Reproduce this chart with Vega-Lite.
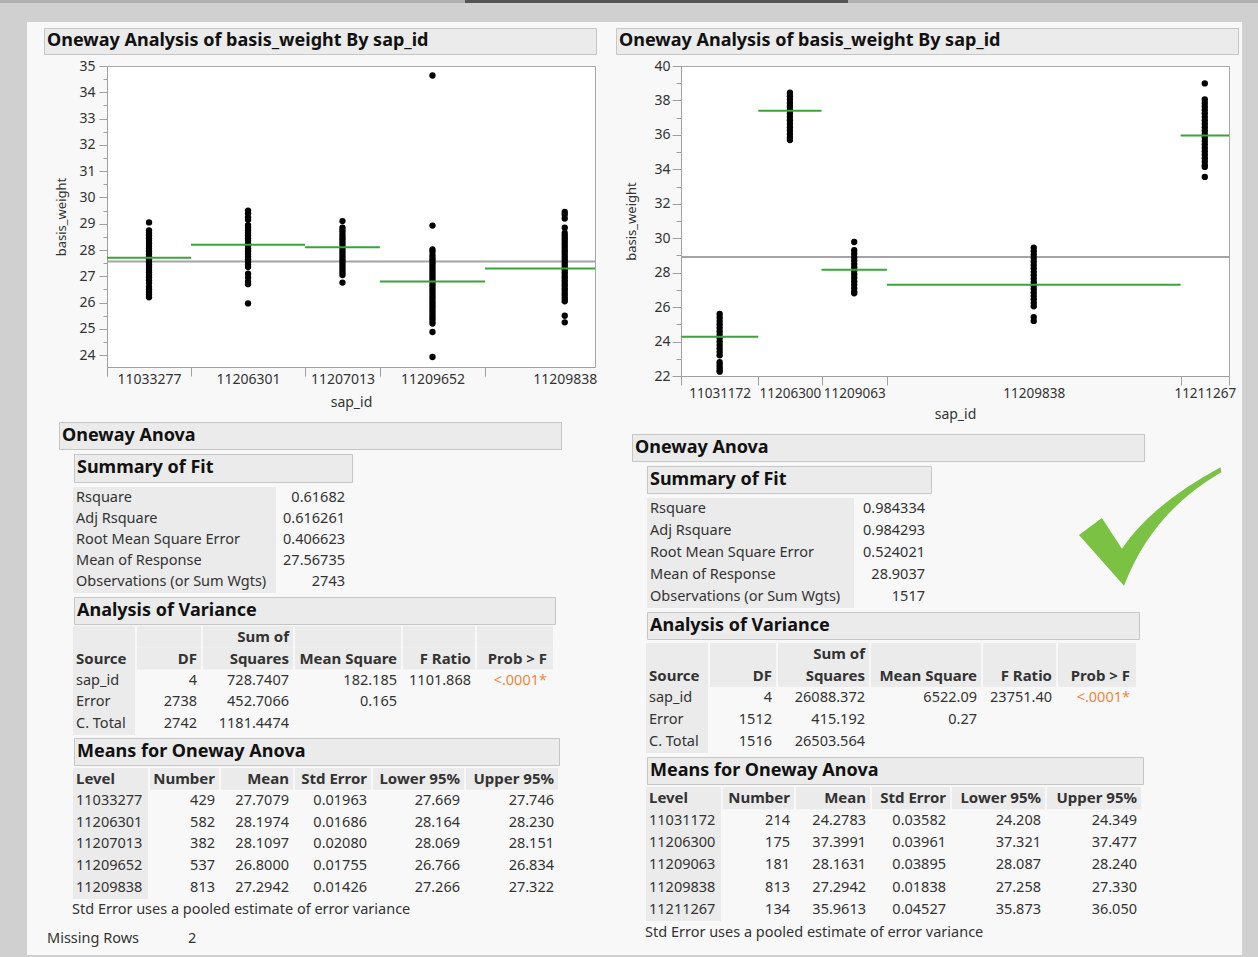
{
"$schema":"https://vega.github.io/schema/vega-lite/v6.json",
"background":"#f8f8f8",
"padding":0,
"spacing":0,
"config":{
 "view":{"stroke":null},
 "text":{"font":"Noto Sans","fontSize":14.5,"color":"#333"},
 "axis":{"domainColor":"#a0a0a0","tickColor":"#a0a0a0","labelColor":"#333","labelFont":"Noto Sans","labelFontSize":14,"titleFont":"Noto Sans","titleFontSize":13,"titleFontWeight":"normal","titleColor":"#333","grid":false,"labelOverlap":false,"labelFlush":false,"labelBound":false}
},
"datasets":{
 "gmL":[{"m":27.56735}],
 "gmR":[{"m":28.9037}],
 "gL":[
  {"g":"11033277","n":429,"lo":0,"hi":429,"mean":27.7079,"vs":[29.05,28.75,28.65,28.55,28.45,28.35,28.25,28.15,28.05,27.95,27.85,27.75,27.65,27.55,27.45,27.35,27.25,27.15,27.05,26.95,26.85,26.75,26.6,26.5,26.4,26.3,26.2]},
  {"g":"11206301","n":582,"lo":429,"hi":1011,"mean":28.1974,"vs":[29.5,29.4,29.25,29.15,28.95,28.85,28.75,28.65,28.55,28.45,28.35,28.25,28.15,28.05,27.95,27.85,27.75,27.65,27.55,27.45,27.35,27.1,26.95,26.8,26.7,25.97]},
  {"g":"11207013","n":382,"lo":1011,"hi":1393,"mean":28.1097,"vs":[29.1,28.85,28.75,28.65,28.55,28.45,28.35,28.25,28.15,28.05,27.95,27.85,27.75,27.65,27.55,27.45,27.35,27.25,27.15,27.05,26.76]},
  {"g":"11209652","n":537,"lo":1393,"hi":1930,"mean":26.8,"vs":[34.64,28.93,28.02,27.93,27.8,27.7,27.6,27.5,27.4,27.3,27.2,27.1,27.0,26.9,26.8,26.7,26.6,26.5,26.4,26.3,26.2,26.1,26.0,25.9,25.8,25.7,25.6,25.5,25.4,25.3,25.2,24.88,23.93]},
  {"g":"11209838","n":813,"lo":1930,"hi":2743,"mean":27.2942,"vs":[29.45,29.35,29.2,28.85,28.65,28.55,28.45,28.35,28.25,28.15,28.05,27.95,27.85,27.75,27.65,27.55,27.45,27.35,27.25,27.15,27.05,26.95,26.85,26.75,26.65,26.55,26.45,26.35,26.25,26.15,26.05,25.5,25.25]}
 ],
 "gR":[
  {"g":"11031172","n":214,"lo":0,"hi":214,"mean":24.2783,"vs":[25.6,25.4,25.2,25.0,24.8,24.6,24.4,24.2,24.0,23.8,23.6,23.4,23.2,22.8,22.65,22.5,22.35,22.25]},
  {"g":"11206300","n":175,"lo":214,"hi":389,"mean":37.3991,"vs":[38.45,38.25,38.05,37.85,37.65,37.45,37.25,37.05,36.85,36.65,36.45,36.25,36.05,35.85,35.7]},
  {"g":"11209063","n":181,"lo":389,"hi":570,"mean":28.1631,"vs":[29.78,29.3,29.1,28.9,28.7,28.5,28.3,28.1,27.9,27.7,27.5,27.3,27.1,26.9,26.8]},
  {"g":"11209838","n":813,"lo":570,"hi":1383,"mean":27.2942,"vs":[29.45,29.25,29.05,28.85,28.65,28.45,28.25,28.05,27.85,27.65,27.45,27.25,27.05,26.85,26.65,26.45,26.25,26.05,25.42,25.2]},
  {"g":"11211267","n":134,"lo":1383,"hi":1517,"mean":35.9613,"vs":[38.99,38.06,37.85,37.65,37.45,37.25,37.05,36.85,36.65,36.45,36.25,36.05,35.85,35.65,35.45,35.25,35.05,34.85,34.65,34.45,34.25,34.14,33.56]}
 ],
 "sofL":[
  {"r":"r1","L":"Rsquare","V":"0.61682"},
  {"r":"r2","L":"Adj Rsquare","V":"0.616261"},
  {"r":"r3","L":"Root Mean Square Error","V":"0.406623"},
  {"r":"r4","L":"Mean of Response","V":"27.56735"},
  {"r":"r5","L":"Observations (or Sum Wgts)","V":"2743"}
 ],
 "sofR":[
  {"r":"r1","L":"Rsquare","V":"0.984334"},
  {"r":"r2","L":"Adj Rsquare","V":"0.984293"},
  {"r":"r3","L":"Root Mean Square Error","V":"0.524021"},
  {"r":"r4","L":"Mean of Response","V":"28.9037"},
  {"r":"r5","L":"Observations (or Sum Wgts)","V":"1517"}
 ],
 "aovL":[
  {"r":"h1","S":"","DF":"","SS":"Sum of","MS":"","F":"","P":""},
  {"r":"h2","S":"Source","DF":"DF","SS":"Squares","MS":"Mean Square","F":"F Ratio","P":"Prob > F"},
  {"r":"r1","S":"sap_id","DF":"4","SS":"728.7407","MS":"182.185","F":"1101.868","P":"<.0001*"},
  {"r":"r2","S":"Error","DF":"2738","SS":"452.7066","MS":"0.165","F":"","P":""},
  {"r":"r3","S":"C. Total","DF":"2742","SS":"1181.4474","MS":"","F":"","P":""}
 ],
 "aovR":[
  {"r":"h1","S":"","DF":"","SS":"Sum of","MS":"","F":"","P":""},
  {"r":"h2","S":"Source","DF":"DF","SS":"Squares","MS":"Mean Square","F":"F Ratio","P":"Prob > F"},
  {"r":"r1","S":"sap_id","DF":"4","SS":"26088.372","MS":"6522.09","F":"23751.40","P":"<.0001*"},
  {"r":"r2","S":"Error","DF":"1512","SS":"415.192","MS":"0.27","F":"","P":""},
  {"r":"r3","S":"C. Total","DF":"1516","SS":"26503.564","MS":"","F":"","P":""}
 ],
 "mL":[
  {"r":"h","L":"Level","N":"Number","M":"Mean","SE":"Std Error","LO":"Lower 95%","UP":"Upper 95%"},
  {"r":"r1","L":"11033277","N":"429","M":"27.7079","SE":"0.01963","LO":"27.669","UP":"27.746"},
  {"r":"r2","L":"11206301","N":"582","M":"28.1974","SE":"0.01686","LO":"28.164","UP":"28.230"},
  {"r":"r3","L":"11207013","N":"382","M":"28.1097","SE":"0.02080","LO":"28.069","UP":"28.151"},
  {"r":"r4","L":"11209652","N":"537","M":"26.8000","SE":"0.01755","LO":"26.766","UP":"26.834"},
  {"r":"r5","L":"11209838","N":"813","M":"27.2942","SE":"0.01426","LO":"27.266","UP":"27.322"}
 ],
 "mR":[
  {"r":"h","L":"Level","N":"Number","M":"Mean","SE":"Std Error","LO":"Lower 95%","UP":"Upper 95%"},
  {"r":"r1","L":"11031172","N":"214","M":"24.2783","SE":"0.03582","LO":"24.208","UP":"24.349"},
  {"r":"r2","L":"11206300","N":"175","M":"37.3991","SE":"0.03961","LO":"37.321","UP":"37.477"},
  {"r":"r3","L":"11209063","N":"181","M":"28.1631","SE":"0.03895","LO":"28.087","UP":"28.240"},
  {"r":"r4","L":"11209838","N":"813","M":"27.2942","SE":"0.01838","LO":"27.258","UP":"27.330"},
  {"r":"r5","L":"11211267","N":"134","M":"35.9613","SE":"0.04527","LO":"35.873","UP":"36.050"}
 ],
 "miss":[{"r":"r1","L":"Missing Rows","V":"2"}]
},
"vconcat":[
 {"vconcat":[
   {"hconcat":[
     {"width":465,"height":3,"view":{"fill":"#b0b0b0"},"data":{"values":[]},"mark":"rect"},
     {"width":383,"height":3,"view":{"fill":"#555555"},"data":{"values":[]},"mark":"rect"},
     {"width":410,"height":3,"view":{"fill":"#b0b0b0"},"data":{"values":[]},"mark":"rect"}
   ],"spacing":0},
   {"width":1258,"height":19,"view":{"fill":"#d0d0d0"},"data":{"values":[]},"mark":"rect"}
 ],"spacing":0},
 {"hconcat":[
  {"width":27,"height":933,"view":{"fill":"#d0d0d0"},"data":{"values":[]},"mark":"rect"},
  {"vconcat":[
   {"width":569,"height":5,"data":{"values":[]},"mark":"rect"},
   {"hconcat":[
     {"width":16,"height":26,"data":{"values":[]},"mark":"rect"},
     {"width":552,"height":26,"view":{"fill":"#ebebeb","stroke":"#c6c6c6"},"data":{"values":[{"t":"Oneway Analysis of basis_weight By sap_id"}]},"mark":{"type":"text","align":"left","baseline":"middle","dx":3,"fontSize":18,"fontWeight":"bold","color":"#111"},"encoding":{"x":{"field":"t","type":"nominal","axis":null,"scale":{"type":"band","paddingInner":0,"paddingOuter":0},"bandPosition":0},"text":{"field":"t"}}}
   ],"spacing":0},
   {"width":1,"height":3,"data":{"values":[]},"mark":"rect"},
   {"hconcat":[
     {"width":80,"height":301,"data":{"values":[]},"mark":"rect"},
     {"width":488,"height":301,"view":{"fill":"white","stroke":"#a8a8a8"},
      "resolve":{"axis":{"x":"independent","y":"independent"}},
      "layer":[
       {"data":{"name":"gmL"},"mark":{"type":"rule","color":"#a4a4a4","strokeWidth":2,"clip":true},
        "encoding":{"y":{"field":"m","type":"quantitative","scale":{"domain":[23.55,35],"nice":false,"zero":false},
          "axis":{"orient":"left","values":[24.5,25.5,26.5,27.5,28.5,29.5,30.5,31.5,32.5,33.5,34.5],"labels":false,"domain":false,"tickSize":4,"title":null}}}},
       {"data":{"name":"gL"},"transform":[{"flatten":["vs"]},{"calculate":"(datum.lo+datum.hi)/2","as":"mid"}],
        "mark":{"type":"point","filled":true,"color":"#000000","size":40,"opacity":1,"clip":true},
        "encoding":{
         "x":{"field":"mid","type":"quantitative","scale":{"domain":[0,2491],"nice":false,"zero":false},
          "axis":{"orient":"bottom","values":[214.5,720,1202,1661.5,2336.5],"ticks":false,"tickSize":0,"domain":false,"labelPadding":5,"labelFontSize":14,"labelExpr":"datum.value==214.5?'11033277':datum.value==720?'11206301':datum.value==1202?'11207013':datum.value==1661.5?'11209652':'11209838'","title":"sap_id","titleFontSize":14,"titlePadding":9}},
         "y":{"field":"vs","type":"quantitative","scale":{"domain":[23.55,35],"nice":false,"zero":false},
          "axis":{"orient":"left","values":[24,25,26,27,28,29,30,31,32,33,34,35],"tickSize":8,"labelPadding":4,"title":"basis_weight","titlePadding":10}}}},
       {"data":{"name":"gL"},"mark":{"type":"rule","color":"#3aa43a","strokeWidth":2,"clip":true},
        "encoding":{
         "x":{"field":"lo","type":"quantitative","scale":{"domain":[0,2491],"nice":false,"zero":false},
          "axis":{"orient":"bottom","values":[0,429,1011,1393,1930],"labels":false,"tickSize":9,"title":null}},
         "x2":{"field":"hi"},
         "y":{"field":"mean","type":"quantitative","scale":{"domain":[23.55,35],"nice":false,"zero":false},"axis":null}}}
      ]}
   ],"spacing":0,"bounds":"flush"},
   {"width":1,"height":11,"data":{"values":[]},"mark":"rect"},
   {"hconcat":[
     {"width":31,"height":27,"data":{"values":[]},"mark":"rect"},
     {"width":502,"height":27,"view":{"fill":"#ebebeb","stroke":"#c6c6c6"},"data":{"values":[{"t":"Oneway Anova"}]},"mark":{"type":"text","align":"left","baseline":"middle","dx":3,"fontSize":18,"fontWeight":"bold","color":"#111"},"encoding":{"x":{"field":"t","type":"nominal","axis":null,"scale":{"type":"band","paddingInner":0,"paddingOuter":0},"bandPosition":0},"text":{"field":"t"}}}
   ],"spacing":0},
   {"width":1,"height":3,"data":{"values":[]},"mark":"rect"},
   {"hconcat":[
     {"width":46,"height":28,"data":{"values":[]},"mark":"rect"},
     {"width":278,"height":28,"view":{"fill":"#ebebeb","stroke":"#c6c6c6"},"data":{"values":[{"t":"Summary of Fit"}]},"mark":{"type":"text","align":"left","baseline":"middle","dx":3,"fontSize":18,"fontWeight":"bold","color":"#111"},"encoding":{"x":{"field":"t","type":"nominal","axis":null,"scale":{"type":"band","paddingInner":0,"paddingOuter":0},"bandPosition":0},"text":{"field":"t"}}}
   ],"spacing":0},
   {"width":1,"height":4,"data":{"values":[]},"mark":"rect"},
   {"hconcat":[
     {"width":46,"height":106,"data":{"values":[]},"mark":"rect"},
     {"width":203,"height":106,"view":{"fill":"#ebebeb"},"data":{"name":"sofL"},"transform":[{"fold":["L"],"as":["c","v"]}],"mark":{"type":"text","align":"left","baseline":"middle","dx":3},"encoding":{"x":{"field":"c","type":"nominal","axis":null,"scale":{"type":"band","paddingInner":0,"paddingOuter":0},"bandPosition":0},"y":{"field":"r","type":"nominal","axis":null,"scale":{"type":"band","paddingInner":0,"paddingOuter":0}},"text":{"field":"v"}}},
     {"width":75,"height":106,"data":{"name":"sofL"},"transform":[{"fold":["V"],"as":["c","v"]}],"mark":{"type":"text","align":"right","baseline":"middle","dx":-6},"encoding":{"x":{"field":"c","type":"nominal","axis":null,"scale":{"type":"band","paddingInner":0,"paddingOuter":0},"bandPosition":1},"y":{"field":"r","type":"nominal","axis":null,"scale":{"type":"band","paddingInner":0,"paddingOuter":0}},"text":{"field":"v"}}}
   ],"spacing":0},
   {"width":1,"height":3,"data":{"values":[]},"mark":"rect"},
   {"hconcat":[
     {"width":46,"height":27,"data":{"values":[]},"mark":"rect"},
     {"width":481,"height":27,"view":{"fill":"#ebebeb","stroke":"#c6c6c6"},"data":{"values":[{"t":"Analysis of Variance"}]},"mark":{"type":"text","align":"left","baseline":"middle","dx":3,"fontSize":18,"fontWeight":"bold","color":"#111"},"encoding":{"x":{"field":"t","type":"nominal","axis":null,"scale":{"type":"band","paddingInner":0,"paddingOuter":0},"bandPosition":0},"text":{"field":"t"}}}
   ],"spacing":0},
   {"width":1,"height":1,"data":{"values":[]},"mark":"rect"},
   {"hconcat":[
     {"width":46,"height":109,"data":{"values":[]},"mark":"rect"},
     {"hconcat":[
       {"width":62,"height":109,"view":{"fill":"#ebebeb"},"data":{"name":"aovL"},"transform":[{"fold":["S"],"as":["c","v"]}],"mark":{"type":"text","align":"left","baseline":"middle","dx":3,"fontWeight":{"expr":"datum.r[0]=='h'?'bold':'normal'"},"fontSize":{"expr":"datum.r[0]=='h'?15:14.5"}},"encoding":{"x":{"field":"c","type":"nominal","axis":null,"scale":{"type":"band","paddingInner":0,"paddingOuter":0},"bandPosition":0},"y":{"field":"r","type":"nominal","axis":null,"scale":{"type":"band","paddingInner":0,"paddingOuter":0}},"text":{"field":"v"}}},
       {"width":64,"height":109,"data":{"name":"aovL"},"transform":[{"fold":["DF"],"as":["c","v"]}],"layer":[{"transform":[{"filter":"datum.r[0]=='h'"}],"mark":{"type":"rect","color":"#ebebeb"},"encoding":{"x":{"field":"c","type":"nominal","axis":null,"scale":{"type":"band","paddingInner":0,"paddingOuter":0}},"y":{"field":"r","type":"nominal","axis":null,"scale":{"type":"band","paddingInner":0,"paddingOuter":0}}}},{"mark":{"type":"text","align":"right","baseline":"middle","dx":-4,"fontWeight":{"expr":"datum.r[0]=='h'?'bold':'normal'"},"fontSize":{"expr":"datum.r[0]=='h'?15:14.5"}},"encoding":{"x":{"field":"c","type":"nominal","axis":null,"bandPosition":1},"y":{"field":"r","type":"nominal","axis":null},"text":{"field":"v"}}}]},
       {"width":90,"height":109,"data":{"name":"aovL"},"transform":[{"fold":["SS"],"as":["c","v"]}],"layer":[{"transform":[{"filter":"datum.r[0]=='h'"}],"mark":{"type":"rect","color":"#ebebeb"},"encoding":{"x":{"field":"c","type":"nominal","axis":null,"scale":{"type":"band","paddingInner":0,"paddingOuter":0}},"y":{"field":"r","type":"nominal","axis":null,"scale":{"type":"band","paddingInner":0,"paddingOuter":0}}}},{"mark":{"type":"text","align":"right","baseline":"middle","dx":-4,"fontWeight":{"expr":"datum.r[0]=='h'?'bold':'normal'"},"fontSize":{"expr":"datum.r[0]=='h'?15:14.5"}},"encoding":{"x":{"field":"c","type":"nominal","axis":null,"bandPosition":1},"y":{"field":"r","type":"nominal","axis":null},"text":{"field":"v"}}}]},
       {"width":106,"height":109,"data":{"name":"aovL"},"transform":[{"fold":["MS"],"as":["c","v"]}],"layer":[{"transform":[{"filter":"datum.r[0]=='h'"}],"mark":{"type":"rect","color":"#ebebeb"},"encoding":{"x":{"field":"c","type":"nominal","axis":null,"scale":{"type":"band","paddingInner":0,"paddingOuter":0}},"y":{"field":"r","type":"nominal","axis":null,"scale":{"type":"band","paddingInner":0,"paddingOuter":0}}}},{"mark":{"type":"text","align":"right","baseline":"middle","dx":-4,"fontWeight":{"expr":"datum.r[0]=='h'?'bold':'normal'"},"fontSize":{"expr":"datum.r[0]=='h'?15:14.5"}},"encoding":{"x":{"field":"c","type":"nominal","axis":null,"bandPosition":1},"y":{"field":"r","type":"nominal","axis":null},"text":{"field":"v"}}}]},
       {"width":72,"height":109,"data":{"name":"aovL"},"transform":[{"fold":["F"],"as":["c","v"]}],"layer":[{"transform":[{"filter":"datum.r[0]=='h'"}],"mark":{"type":"rect","color":"#ebebeb"},"encoding":{"x":{"field":"c","type":"nominal","axis":null,"scale":{"type":"band","paddingInner":0,"paddingOuter":0}},"y":{"field":"r","type":"nominal","axis":null,"scale":{"type":"band","paddingInner":0,"paddingOuter":0}}}},{"mark":{"type":"text","align":"right","baseline":"middle","dx":-4,"fontWeight":{"expr":"datum.r[0]=='h'?'bold':'normal'"},"fontSize":{"expr":"datum.r[0]=='h'?15:14.5"}},"encoding":{"x":{"field":"c","type":"nominal","axis":null,"bandPosition":1},"y":{"field":"r","type":"nominal","axis":null},"text":{"field":"v"}}}]},
       {"width":76,"height":109,"data":{"name":"aovL"},"transform":[{"fold":["P"],"as":["c","v"]}],"layer":[{"transform":[{"filter":"datum.r[0]=='h'"}],"mark":{"type":"rect","color":"#ebebeb"},"encoding":{"x":{"field":"c","type":"nominal","axis":null,"scale":{"type":"band","paddingInner":0,"paddingOuter":0}},"y":{"field":"r","type":"nominal","axis":null,"scale":{"type":"band","paddingInner":0,"paddingOuter":0}}}},{"mark":{"type":"text","align":"right","baseline":"middle","dx":-6,"fontWeight":{"expr":"datum.r[0]=='h'?'bold':'normal'"},"fontSize":{"expr":"datum.r[0]=='h'?15:14.5"},"fill":{"expr":"datum.r[0]=='h'?'#333333':'#f0883e'"}},"encoding":{"x":{"field":"c","type":"nominal","axis":null,"bandPosition":1},"y":{"field":"r","type":"nominal","axis":null},"text":{"field":"v"}}}]}
     ],"spacing":2}
   ],"spacing":0},
   {"width":1,"height":2,"data":{"values":[]},"mark":"rect"},
   {"hconcat":[
     {"width":46,"height":27,"data":{"values":[]},"mark":"rect"},
     {"width":485,"height":27,"view":{"fill":"#ebebeb","stroke":"#c6c6c6"},"data":{"values":[{"t":"Means for Oneway Anova"}]},"mark":{"type":"text","align":"left","baseline":"middle","dx":3,"fontSize":18,"fontWeight":"bold","color":"#111"},"encoding":{"x":{"field":"t","type":"nominal","axis":null,"scale":{"type":"band","paddingInner":0,"paddingOuter":0},"bandPosition":0},"text":{"field":"t"}}}
   ],"spacing":0},
   {"width":1,"height":2,"data":{"values":[]},"mark":"rect"},
   {"hconcat":[
     {"width":46,"height":131,"data":{"values":[]},"mark":"rect"},
     {"hconcat":[
       {"width":75,"height":131,"view":{"fill":"#ebebeb"},"data":{"name":"mL"},"transform":[{"fold":["L"],"as":["c","v"]}],"mark":{"type":"text","align":"left","baseline":"middle","dx":3,"fontWeight":{"expr":"datum.r[0]=='h'?'bold':'normal'"},"fontSize":{"expr":"datum.r[0]=='h'?15:14.5"}},"encoding":{"x":{"field":"c","type":"nominal","axis":null,"scale":{"type":"band","paddingInner":0,"paddingOuter":0},"bandPosition":0},"y":{"field":"r","type":"nominal","axis":null,"scale":{"type":"band","paddingInner":0,"paddingOuter":0}},"text":{"field":"v"}}},
       {"width":69,"height":131,"data":{"name":"mL"},"transform":[{"fold":["N"],"as":["c","v"]}],"layer":[{"transform":[{"filter":"datum.r[0]=='h'"}],"mark":{"type":"rect","color":"#ebebeb"},"encoding":{"x":{"field":"c","type":"nominal","axis":null,"scale":{"type":"band","paddingInner":0,"paddingOuter":0}},"y":{"field":"r","type":"nominal","axis":null,"scale":{"type":"band","paddingInner":0,"paddingOuter":0}}}},{"mark":{"type":"text","align":"right","baseline":"middle","dx":-4,"fontWeight":{"expr":"datum.r[0]=='h'?'bold':'normal'"},"fontSize":{"expr":"datum.r[0]=='h'?15:14.5"}},"encoding":{"x":{"field":"c","type":"nominal","axis":null,"bandPosition":1},"y":{"field":"r","type":"nominal","axis":null},"text":{"field":"v"}}}]},
       {"width":72,"height":131,"data":{"name":"mL"},"transform":[{"fold":["M"],"as":["c","v"]}],"layer":[{"transform":[{"filter":"datum.r[0]=='h'"}],"mark":{"type":"rect","color":"#ebebeb"},"encoding":{"x":{"field":"c","type":"nominal","axis":null,"scale":{"type":"band","paddingInner":0,"paddingOuter":0}},"y":{"field":"r","type":"nominal","axis":null,"scale":{"type":"band","paddingInner":0,"paddingOuter":0}}}},{"mark":{"type":"text","align":"right","baseline":"middle","dx":-4,"fontWeight":{"expr":"datum.r[0]=='h'?'bold':'normal'"},"fontSize":{"expr":"datum.r[0]=='h'?15:14.5"}},"encoding":{"x":{"field":"c","type":"nominal","axis":null,"bandPosition":1},"y":{"field":"r","type":"nominal","axis":null},"text":{"field":"v"}}}]},
       {"width":76,"height":131,"data":{"name":"mL"},"transform":[{"fold":["SE"],"as":["c","v"]}],"layer":[{"transform":[{"filter":"datum.r[0]=='h'"}],"mark":{"type":"rect","color":"#ebebeb"},"encoding":{"x":{"field":"c","type":"nominal","axis":null,"scale":{"type":"band","paddingInner":0,"paddingOuter":0}},"y":{"field":"r","type":"nominal","axis":null,"scale":{"type":"band","paddingInner":0,"paddingOuter":0}}}},{"mark":{"type":"text","align":"right","baseline":"middle","dx":-4,"fontWeight":{"expr":"datum.r[0]=='h'?'bold':'normal'"},"fontSize":{"expr":"datum.r[0]=='h'?15:14.5"}},"encoding":{"x":{"field":"c","type":"nominal","axis":null,"bandPosition":1},"y":{"field":"r","type":"nominal","axis":null},"text":{"field":"v"}}}]},
       {"width":91,"height":131,"data":{"name":"mL"},"transform":[{"fold":["LO"],"as":["c","v"]}],"layer":[{"transform":[{"filter":"datum.r[0]=='h'"}],"mark":{"type":"rect","color":"#ebebeb"},"encoding":{"x":{"field":"c","type":"nominal","axis":null,"scale":{"type":"band","paddingInner":0,"paddingOuter":0}},"y":{"field":"r","type":"nominal","axis":null,"scale":{"type":"band","paddingInner":0,"paddingOuter":0}}}},{"mark":{"type":"text","align":"right","baseline":"middle","dx":-4,"fontWeight":{"expr":"datum.r[0]=='h'?'bold':'normal'"},"fontSize":{"expr":"datum.r[0]=='h'?15:14.5"}},"encoding":{"x":{"field":"c","type":"nominal","axis":null,"bandPosition":1},"y":{"field":"r","type":"nominal","axis":null},"text":{"field":"v"}}}]},
       {"width":92,"height":131,"data":{"name":"mL"},"transform":[{"fold":["UP"],"as":["c","v"]}],"layer":[{"transform":[{"filter":"datum.r[0]=='h'"}],"mark":{"type":"rect","color":"#ebebeb"},"encoding":{"x":{"field":"c","type":"nominal","axis":null,"scale":{"type":"band","paddingInner":0,"paddingOuter":0}},"y":{"field":"r","type":"nominal","axis":null,"scale":{"type":"band","paddingInner":0,"paddingOuter":0}}}},{"mark":{"type":"text","align":"right","baseline":"middle","dx":-4,"fontWeight":{"expr":"datum.r[0]=='h'?'bold':'normal'"},"fontSize":{"expr":"datum.r[0]=='h'?15:14.5"}},"encoding":{"x":{"field":"c","type":"nominal","axis":null,"bandPosition":1},"y":{"field":"r","type":"nominal","axis":null},"text":{"field":"v"}}}]}
     ],"spacing":2}
   ],"spacing":0},
   {"width":1,"height":1,"data":{"values":[]},"mark":"rect"},
   {"hconcat":[
     {"width":45,"height":20,"data":{"values":[]},"mark":"rect"},
     {"width":420,"height":20,"data":{"values":[{"t":"Std Error uses a pooled estimate of error variance"}]},"mark":{"type":"text","align":"left","baseline":"middle"},"encoding":{"x":{"field":"t","type":"nominal","axis":null,"scale":{"type":"band","paddingInner":0,"paddingOuter":0},"bandPosition":0},"text":{"field":"t"}}}
   ],"spacing":0},
   {"width":1,"height":9,"data":{"values":[]},"mark":"rect"},
   {"hconcat":[
     {"width":20,"height":20,"data":{"values":[]},"mark":"rect"},
     {"width":141,"height":20,"data":{"name":"miss"},"transform":[{"fold":["L"],"as":["c","v"]}],"mark":{"type":"text","align":"left","baseline":"middle"},"encoding":{"x":{"field":"c","type":"nominal","axis":null,"scale":{"type":"band","paddingInner":0,"paddingOuter":0},"bandPosition":0},"text":{"field":"v"}}},
     {"width":40,"height":20,"data":{"name":"miss"},"transform":[{"fold":["V"],"as":["c","v"]}],"mark":{"type":"text","align":"left","baseline":"middle"},"encoding":{"x":{"field":"c","type":"nominal","axis":null,"scale":{"type":"band","paddingInner":0,"paddingOuter":0},"bandPosition":0},"text":{"field":"v"}}}
   ],"spacing":0}
  ],"spacing":0},
  {"vconcat":[
   {"width":644,"height":5,"data":{"values":[]},"mark":"rect"},
   {"hconcat":[
     {"width":17,"height":26,"data":{"values":[]},"mark":"rect"},
     {"width":622,"height":26,"view":{"fill":"#ebebeb","stroke":"#c6c6c6"},"data":{"values":[{"t":"Oneway Analysis of basis_weight By sap_id"}]},"mark":{"type":"text","align":"left","baseline":"middle","dx":3,"fontSize":18,"fontWeight":"bold","color":"#111"},"encoding":{"x":{"field":"t","type":"nominal","axis":null,"scale":{"type":"band","paddingInner":0,"paddingOuter":0},"bandPosition":0},"text":{"field":"t"}}}
   ],"spacing":0},
   {"width":1,"height":3,"data":{"values":[]},"mark":"rect"},
   {"hconcat":[
     {"width":83,"height":310,"data":{"values":[]},"mark":"rect"},
     {"width":548,"height":310,"view":{"fill":"white","stroke":"#a8a8a8"},
      "resolve":{"axis":{"x":"independent","y":"independent"}},
      "layer":[
       {"data":{"name":"gmR"},"mark":{"type":"rule","color":"#a4a4a4","strokeWidth":2,"clip":true},
        "encoding":{"y":{"field":"m","type":"quantitative","scale":{"domain":[22,40],"nice":false,"zero":false},
          "axis":{"orient":"left","values":[23,25,27,29,31,33,35,37,39],"labels":false,"domain":false,"tickSize":5,"title":null}}}},
       {"data":{"name":"gR"},"transform":[{"flatten":["vs"]},{"calculate":"(datum.lo+datum.hi)/2","as":"mid"}],
        "mark":{"type":"point","filled":true,"color":"#000000","size":40,"opacity":1,"clip":true},
        "encoding":{
         "x":{"field":"mid","type":"quantitative","scale":{"domain":[0,1517],"nice":false,"zero":false},
          "axis":{"orient":"bottom","values":[107,301.5,479.5,976.5,1450],"ticks":false,"tickSize":0,"domain":false,"labelPadding":10,"labelFontSize":13.5,"labelExpr":"datum.value==107?'11031172':datum.value==301.5?'11206300':datum.value==479.5?'11209063':datum.value==976.5?'11209838':'11211267'","title":"sap_id","titleFontSize":14,"titlePadding":8}},
         "y":{"field":"vs","type":"quantitative","scale":{"domain":[22,40],"nice":false,"zero":false},
          "axis":{"orient":"left","values":[22,24,26,28,30,32,34,36,38,40],"tickSize":9,"labelPadding":2,"title":"basis_weight","titlePadding":15}}}},
       {"data":{"name":"gR"},"mark":{"type":"rule","color":"#3aa43a","strokeWidth":2,"clip":true},
        "encoding":{
         "x":{"field":"lo","type":"quantitative","scale":{"domain":[0,1517],"nice":false,"zero":false},
          "axis":{"orient":"bottom","values":[0,214,389,570,1383,1517],"labels":false,"tickSize":9,"title":null}},
         "x2":{"field":"hi"},
         "y":{"field":"mean","type":"quantitative","scale":{"domain":[22,40],"nice":false,"zero":false},"axis":null}}}
      ]}
   ],"spacing":0,"bounds":"flush"},
   {"width":1,"height":11,"data":{"values":[]},"mark":"rect"},
   {"hconcat":[
     {"width":33,"height":27,"data":{"values":[]},"mark":"rect"},
     {"width":512,"height":27,"view":{"fill":"#ebebeb","stroke":"#c6c6c6"},"data":{"values":[{"t":"Oneway Anova"}]},"mark":{"type":"text","align":"left","baseline":"middle","dx":3,"fontSize":18,"fontWeight":"bold","color":"#111"},"encoding":{"x":{"field":"t","type":"nominal","axis":null,"scale":{"type":"band","paddingInner":0,"paddingOuter":0},"bandPosition":0},"text":{"field":"t"}}}
   ],"spacing":0},
   {"width":1,"height":3,"data":{"values":[]},"mark":"rect"},
   {"hconcat":[
     {"width":48,"height":27,"data":{"values":[]},"mark":"rect"},
     {"vconcat":[
       {"width":284,"height":27,"view":{"fill":"#ebebeb","stroke":"#c6c6c6"},"data":{"values":[{"t":"Summary of Fit"}]},"mark":{"type":"text","align":"left","baseline":"middle","dx":3,"fontSize":18,"fontWeight":"bold","color":"#111"},"encoding":{"x":{"field":"t","type":"nominal","axis":null,"scale":{"type":"band","paddingInner":0,"paddingOuter":0},"bandPosition":0},"text":{"field":"t"}}},
       {"width":1,"height":4,"data":{"values":[]},"mark":"rect"},
       {"hconcat":[
         {"width":207,"height":110,"view":{"fill":"#ebebeb"},"data":{"name":"sofR"},"transform":[{"fold":["L"],"as":["c","v"]}],"mark":{"type":"text","align":"left","baseline":"middle","dx":3},"encoding":{"x":{"field":"c","type":"nominal","axis":null,"scale":{"type":"band","paddingInner":0,"paddingOuter":0},"bandPosition":0},"y":{"field":"r","type":"nominal","axis":null,"scale":{"type":"band","paddingInner":0,"paddingOuter":0}},"text":{"field":"v"}}},
         {"width":77,"height":110,"data":{"name":"sofR"},"transform":[{"fold":["V"],"as":["c","v"]}],"mark":{"type":"text","align":"right","baseline":"middle","dx":-6},"encoding":{"x":{"field":"c","type":"nominal","axis":null,"scale":{"type":"band","paddingInner":0,"paddingOuter":0},"bandPosition":1},"y":{"field":"r","type":"nominal","axis":null,"scale":{"type":"band","paddingInner":0,"paddingOuter":0}},"text":{"field":"v"}}}
       ],"spacing":0}
     ],"spacing":0},
     {"width":147,"height":27,"data":{"values":[]},"mark":"rect"},
     {"width":143,"height":121,"data":{"values":[{"k":"ok"}]},"mark":{"type":"point","shape":"M-1,0.12L-0.68,-0.12L-0.4,0.31Q0.03,-0.32 0.98,-0.83L0.99,-0.76Q0.02,-0.2 -0.37,0.83Z","size":20449,"filled":true,"color":"#7bc143","opacity":1,"strokeWidth":0}}
   ],"spacing":0},
   {"width":1,"height":3,"data":{"values":[]},"mark":"rect"},
   {"hconcat":[
     {"width":48,"height":27,"data":{"values":[]},"mark":"rect"},
     {"width":492,"height":27,"view":{"fill":"#ebebeb","stroke":"#c6c6c6"},"data":{"values":[{"t":"Analysis of Variance"}]},"mark":{"type":"text","align":"left","baseline":"middle","dx":3,"fontSize":18,"fontWeight":"bold","color":"#111"},"encoding":{"x":{"field":"t","type":"nominal","axis":null,"scale":{"type":"band","paddingInner":0,"paddingOuter":0},"bandPosition":0},"text":{"field":"t"}}}
   ],"spacing":0},
   {"width":1,"height":3,"data":{"values":[]},"mark":"rect"},
   {"hconcat":[
     {"width":48,"height":110,"data":{"values":[]},"mark":"rect"},
     {"hconcat":[
       {"width":62,"height":110,"view":{"fill":"#ebebeb"},"data":{"name":"aovR"},"transform":[{"fold":["S"],"as":["c","v"]}],"mark":{"type":"text","align":"left","baseline":"middle","dx":3,"fontWeight":{"expr":"datum.r[0]=='h'?'bold':'normal'"},"fontSize":{"expr":"datum.r[0]=='h'?15:14.5"}},"encoding":{"x":{"field":"c","type":"nominal","axis":null,"scale":{"type":"band","paddingInner":0,"paddingOuter":0},"bandPosition":0},"y":{"field":"r","type":"nominal","axis":null,"scale":{"type":"band","paddingInner":0,"paddingOuter":0}},"text":{"field":"v"}}},
       {"width":66,"height":110,"data":{"name":"aovR"},"transform":[{"fold":["DF"],"as":["c","v"]}],"layer":[{"transform":[{"filter":"datum.r[0]=='h'"}],"mark":{"type":"rect","color":"#ebebeb"},"encoding":{"x":{"field":"c","type":"nominal","axis":null,"scale":{"type":"band","paddingInner":0,"paddingOuter":0}},"y":{"field":"r","type":"nominal","axis":null,"scale":{"type":"band","paddingInner":0,"paddingOuter":0}}}},{"mark":{"type":"text","align":"right","baseline":"middle","dx":-4,"fontWeight":{"expr":"datum.r[0]=='h'?'bold':'normal'"},"fontSize":{"expr":"datum.r[0]=='h'?15:14.5"}},"encoding":{"x":{"field":"c","type":"nominal","axis":null,"bandPosition":1},"y":{"field":"r","type":"nominal","axis":null},"text":{"field":"v"}}}]},
       {"width":91,"height":110,"data":{"name":"aovR"},"transform":[{"fold":["SS"],"as":["c","v"]}],"layer":[{"transform":[{"filter":"datum.r[0]=='h'"}],"mark":{"type":"rect","color":"#ebebeb"},"encoding":{"x":{"field":"c","type":"nominal","axis":null,"scale":{"type":"band","paddingInner":0,"paddingOuter":0}},"y":{"field":"r","type":"nominal","axis":null,"scale":{"type":"band","paddingInner":0,"paddingOuter":0}}}},{"mark":{"type":"text","align":"right","baseline":"middle","dx":-4,"fontWeight":{"expr":"datum.r[0]=='h'?'bold':'normal'"},"fontSize":{"expr":"datum.r[0]=='h'?15:14.5"}},"encoding":{"x":{"field":"c","type":"nominal","axis":null,"bandPosition":1},"y":{"field":"r","type":"nominal","axis":null},"text":{"field":"v"}}}]},
       {"width":110,"height":110,"data":{"name":"aovR"},"transform":[{"fold":["MS"],"as":["c","v"]}],"layer":[{"transform":[{"filter":"datum.r[0]=='h'"}],"mark":{"type":"rect","color":"#ebebeb"},"encoding":{"x":{"field":"c","type":"nominal","axis":null,"scale":{"type":"band","paddingInner":0,"paddingOuter":0}},"y":{"field":"r","type":"nominal","axis":null,"scale":{"type":"band","paddingInner":0,"paddingOuter":0}}}},{"mark":{"type":"text","align":"right","baseline":"middle","dx":-4,"fontWeight":{"expr":"datum.r[0]=='h'?'bold':'normal'"},"fontSize":{"expr":"datum.r[0]=='h'?15:14.5"}},"encoding":{"x":{"field":"c","type":"nominal","axis":null,"bandPosition":1},"y":{"field":"r","type":"nominal","axis":null},"text":{"field":"v"}}}]},
       {"width":73,"height":110,"data":{"name":"aovR"},"transform":[{"fold":["F"],"as":["c","v"]}],"layer":[{"transform":[{"filter":"datum.r[0]=='h'"}],"mark":{"type":"rect","color":"#ebebeb"},"encoding":{"x":{"field":"c","type":"nominal","axis":null,"scale":{"type":"band","paddingInner":0,"paddingOuter":0}},"y":{"field":"r","type":"nominal","axis":null,"scale":{"type":"band","paddingInner":0,"paddingOuter":0}}}},{"mark":{"type":"text","align":"right","baseline":"middle","dx":-4,"fontWeight":{"expr":"datum.r[0]=='h'?'bold':'normal'"},"fontSize":{"expr":"datum.r[0]=='h'?15:14.5"}},"encoding":{"x":{"field":"c","type":"nominal","axis":null,"bandPosition":1},"y":{"field":"r","type":"nominal","axis":null},"text":{"field":"v"}}}]},
       {"width":78,"height":110,"data":{"name":"aovR"},"transform":[{"fold":["P"],"as":["c","v"]}],"layer":[{"transform":[{"filter":"datum.r[0]=='h'"}],"mark":{"type":"rect","color":"#ebebeb"},"encoding":{"x":{"field":"c","type":"nominal","axis":null,"scale":{"type":"band","paddingInner":0,"paddingOuter":0}},"y":{"field":"r","type":"nominal","axis":null,"scale":{"type":"band","paddingInner":0,"paddingOuter":0}}}},{"mark":{"type":"text","align":"right","baseline":"middle","dx":-6,"fontWeight":{"expr":"datum.r[0]=='h'?'bold':'normal'"},"fontSize":{"expr":"datum.r[0]=='h'?15:14.5"},"fill":{"expr":"datum.r[0]=='h'?'#333333':'#f0883e'"}},"encoding":{"x":{"field":"c","type":"nominal","axis":null,"bandPosition":1},"y":{"field":"r","type":"nominal","axis":null},"text":{"field":"v"}}}]}
     ],"spacing":2}
   ],"spacing":0},
   {"width":1,"height":3,"data":{"values":[]},"mark":"rect"},
   {"hconcat":[
     {"width":48,"height":27,"data":{"values":[]},"mark":"rect"},
     {"width":496,"height":27,"view":{"fill":"#ebebeb","stroke":"#c6c6c6"},"data":{"values":[{"t":"Means for Oneway Anova"}]},"mark":{"type":"text","align":"left","baseline":"middle","dx":3,"fontSize":18,"fontWeight":"bold","color":"#111"},"encoding":{"x":{"field":"t","type":"nominal","axis":null,"scale":{"type":"band","paddingInner":0,"paddingOuter":0},"bandPosition":0},"text":{"field":"t"}}}
   ],"spacing":0},
   {"width":1,"height":2,"data":{"values":[]},"mark":"rect"},
   {"hconcat":[
     {"width":48,"height":134,"data":{"values":[]},"mark":"rect"},
     {"hconcat":[
       {"width":75,"height":134,"view":{"fill":"#ebebeb"},"data":{"name":"mR"},"transform":[{"fold":["L"],"as":["c","v"]}],"mark":{"type":"text","align":"left","baseline":"middle","dx":3,"fontWeight":{"expr":"datum.r[0]=='h'?'bold':'normal'"},"fontSize":{"expr":"datum.r[0]=='h'?15:14.5"}},"encoding":{"x":{"field":"c","type":"nominal","axis":null,"scale":{"type":"band","paddingInner":0,"paddingOuter":0},"bandPosition":0},"y":{"field":"r","type":"nominal","axis":null,"scale":{"type":"band","paddingInner":0,"paddingOuter":0}},"text":{"field":"v"}}},
       {"width":71,"height":134,"data":{"name":"mR"},"transform":[{"fold":["N"],"as":["c","v"]}],"layer":[{"transform":[{"filter":"datum.r[0]=='h'"}],"mark":{"type":"rect","color":"#ebebeb"},"encoding":{"x":{"field":"c","type":"nominal","axis":null,"scale":{"type":"band","paddingInner":0,"paddingOuter":0}},"y":{"field":"r","type":"nominal","axis":null,"scale":{"type":"band","paddingInner":0,"paddingOuter":0}}}},{"mark":{"type":"text","align":"right","baseline":"middle","dx":-4,"fontWeight":{"expr":"datum.r[0]=='h'?'bold':'normal'"},"fontSize":{"expr":"datum.r[0]=='h'?15:14.5"}},"encoding":{"x":{"field":"c","type":"nominal","axis":null,"bandPosition":1},"y":{"field":"r","type":"nominal","axis":null},"text":{"field":"v"}}}]},
       {"width":74,"height":134,"data":{"name":"mR"},"transform":[{"fold":["M"],"as":["c","v"]}],"layer":[{"transform":[{"filter":"datum.r[0]=='h'"}],"mark":{"type":"rect","color":"#ebebeb"},"encoding":{"x":{"field":"c","type":"nominal","axis":null,"scale":{"type":"band","paddingInner":0,"paddingOuter":0}},"y":{"field":"r","type":"nominal","axis":null,"scale":{"type":"band","paddingInner":0,"paddingOuter":0}}}},{"mark":{"type":"text","align":"right","baseline":"middle","dx":-4,"fontWeight":{"expr":"datum.r[0]=='h'?'bold':'normal'"},"fontSize":{"expr":"datum.r[0]=='h'?15:14.5"}},"encoding":{"x":{"field":"c","type":"nominal","axis":null,"bandPosition":1},"y":{"field":"r","type":"nominal","axis":null},"text":{"field":"v"}}}]},
       {"width":78,"height":134,"data":{"name":"mR"},"transform":[{"fold":["SE"],"as":["c","v"]}],"layer":[{"transform":[{"filter":"datum.r[0]=='h'"}],"mark":{"type":"rect","color":"#ebebeb"},"encoding":{"x":{"field":"c","type":"nominal","axis":null,"scale":{"type":"band","paddingInner":0,"paddingOuter":0}},"y":{"field":"r","type":"nominal","axis":null,"scale":{"type":"band","paddingInner":0,"paddingOuter":0}}}},{"mark":{"type":"text","align":"right","baseline":"middle","dx":-4,"fontWeight":{"expr":"datum.r[0]=='h'?'bold':'normal'"},"fontSize":{"expr":"datum.r[0]=='h'?15:14.5"}},"encoding":{"x":{"field":"c","type":"nominal","axis":null,"bandPosition":1},"y":{"field":"r","type":"nominal","axis":null},"text":{"field":"v"}}}]},
       {"width":93,"height":134,"data":{"name":"mR"},"transform":[{"fold":["LO"],"as":["c","v"]}],"layer":[{"transform":[{"filter":"datum.r[0]=='h'"}],"mark":{"type":"rect","color":"#ebebeb"},"encoding":{"x":{"field":"c","type":"nominal","axis":null,"scale":{"type":"band","paddingInner":0,"paddingOuter":0}},"y":{"field":"r","type":"nominal","axis":null,"scale":{"type":"band","paddingInner":0,"paddingOuter":0}}}},{"mark":{"type":"text","align":"right","baseline":"middle","dx":-4,"fontWeight":{"expr":"datum.r[0]=='h'?'bold':'normal'"},"fontSize":{"expr":"datum.r[0]=='h'?15:14.5"}},"encoding":{"x":{"field":"c","type":"nominal","axis":null,"bandPosition":1},"y":{"field":"r","type":"nominal","axis":null},"text":{"field":"v"}}}]},
       {"width":94,"height":134,"data":{"name":"mR"},"transform":[{"fold":["UP"],"as":["c","v"]}],"layer":[{"transform":[{"filter":"datum.r[0]=='h'"}],"mark":{"type":"rect","color":"#ebebeb"},"encoding":{"x":{"field":"c","type":"nominal","axis":null,"scale":{"type":"band","paddingInner":0,"paddingOuter":0}},"y":{"field":"r","type":"nominal","axis":null,"scale":{"type":"band","paddingInner":0,"paddingOuter":0}}}},{"mark":{"type":"text","align":"right","baseline":"middle","dx":-4,"fontWeight":{"expr":"datum.r[0]=='h'?'bold':'normal'"},"fontSize":{"expr":"datum.r[0]=='h'?15:14.5"}},"encoding":{"x":{"field":"c","type":"nominal","axis":null,"bandPosition":1},"y":{"field":"r","type":"nominal","axis":null},"text":{"field":"v"}}}]}
     ],"spacing":2}
   ],"spacing":0},
   {"width":1,"height":2,"data":{"values":[]},"mark":"rect"},
   {"hconcat":[
     {"width":47,"height":20,"data":{"values":[]},"mark":"rect"},
     {"width":420,"height":20,"data":{"values":[{"t":"Std Error uses a pooled estimate of error variance"}]},"mark":{"type":"text","align":"left","baseline":"middle"},"encoding":{"x":{"field":"t","type":"nominal","axis":null,"scale":{"type":"band","paddingInner":0,"paddingOuter":0},"bandPosition":0},"text":{"field":"t"}}}
   ],"spacing":0}
  ],"spacing":0},
  {"width":16,"height":933,"view":{"fill":"#d0d0d0"},"data":{"values":[]},"mark":"rect"}
 ],"spacing":0},
 {"width":1258,"height":2,"view":{"fill":"#d0d0d0"},"data":{"values":[]},"mark":"rect"}
]
}
